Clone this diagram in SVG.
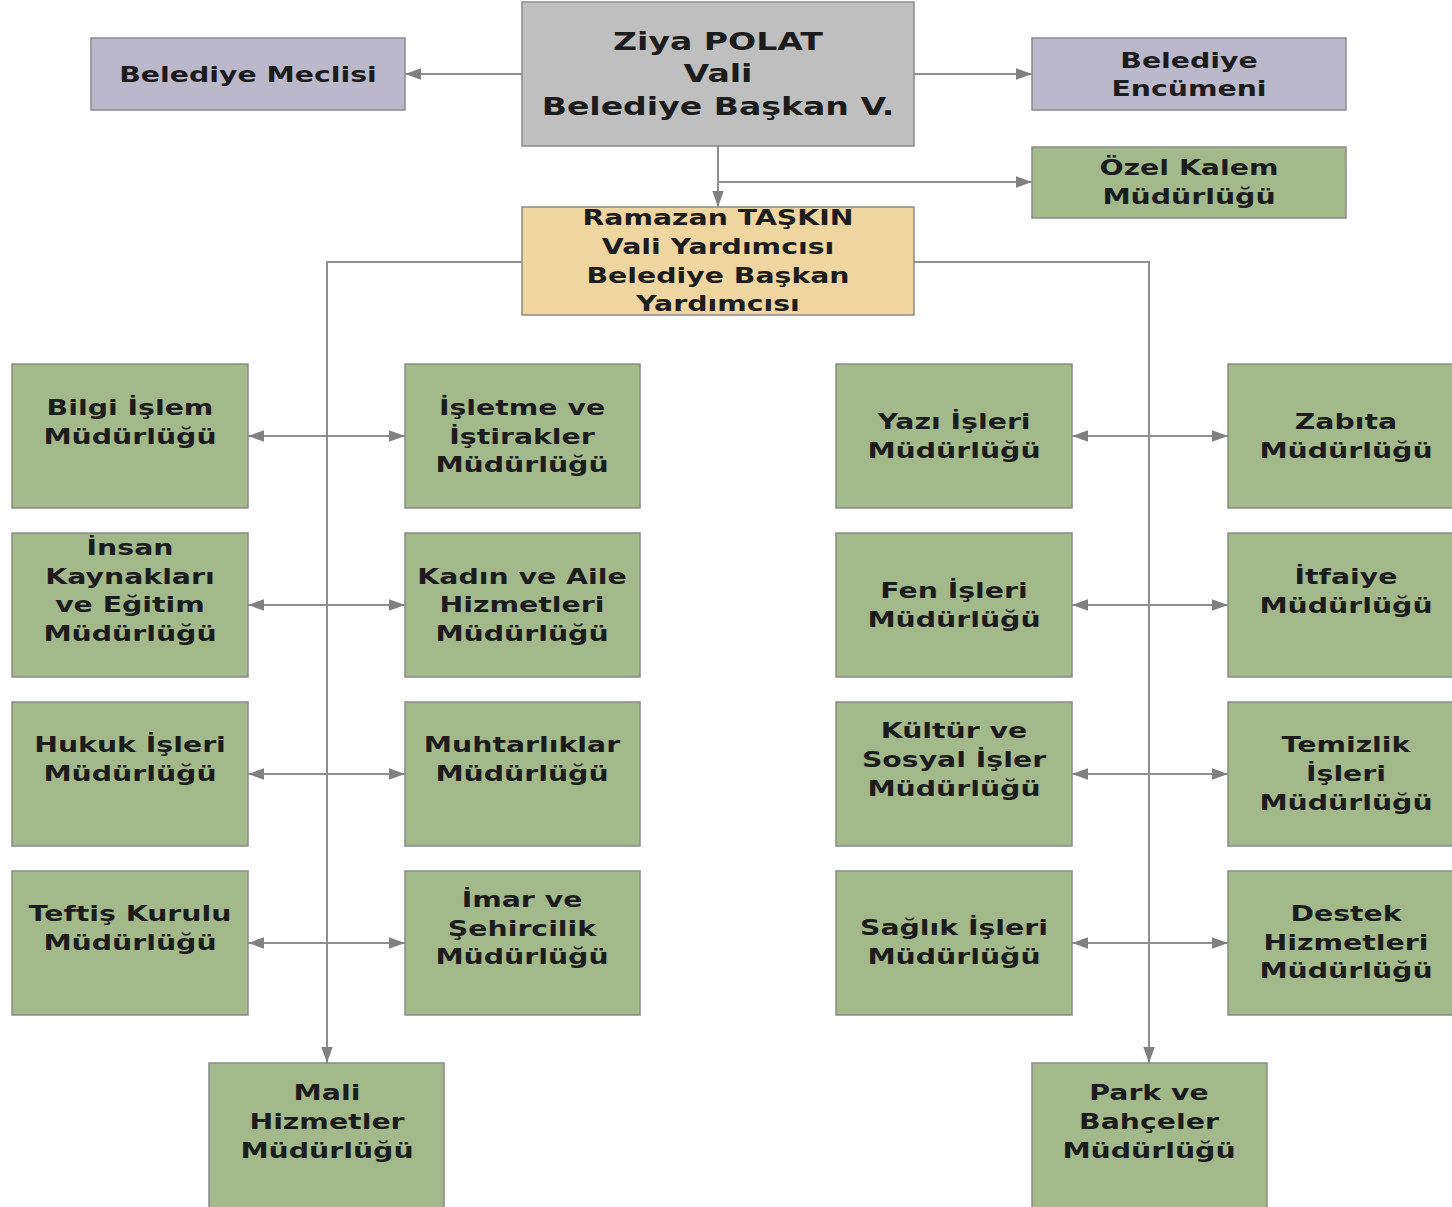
<svg xmlns="http://www.w3.org/2000/svg" width="1452" height="1207" viewBox="0 0 1452 1207">
<style>
text{font-family:"DejaVu Sans","Verdana",sans-serif;font-weight:bold;font-size:21px;fill:#1c1c1c;text-anchor:middle}
text.big{font-size:24px}
.n rect{stroke:#8a8a8a;stroke-width:1.5}
.g{fill:#a3b98c}
.p{fill:#bcb8cc}
.gr{fill:#bfbfbf}
.y{fill:#efd59f}
.c path{fill:none;stroke:#8f8f8f;stroke-width:2}
</style>
<defs>
<marker id="ah" markerUnits="userSpaceOnUse" markerWidth="16" markerHeight="12" refX="14" refY="5" orient="auto-start-reverse" viewBox="0 0 14 10">
<path d="M0,0 L14,5 L0,10 z" fill="#808080"/>
</marker>
</defs>
<rect width="1452" height="1207" fill="#ffffff"/>
<g class="c" id="connectors">
<path d="M522 74 H405" marker-end="url(#ah)"/>
<path d="M914 74 H1032" marker-end="url(#ah)"/>
<path d="M718 146 V207" marker-end="url(#ah)"/>
<path d="M718 182 H1032" marker-end="url(#ah)"/>
<path d="M522 262 H327 V1063" marker-end="url(#ah)"/>
<path d="M914 262 H1149 V1063" marker-end="url(#ah)"/>
<path d="M248 436 H405" marker-start="url(#ah)" marker-end="url(#ah)"/>
<path d="M248 605 H405" marker-start="url(#ah)" marker-end="url(#ah)"/>
<path d="M248 774 H405" marker-start="url(#ah)" marker-end="url(#ah)"/>
<path d="M248 943 H405" marker-start="url(#ah)" marker-end="url(#ah)"/>
<path d="M1072 436 H1228" marker-start="url(#ah)" marker-end="url(#ah)"/>
<path d="M1072 605 H1228" marker-start="url(#ah)" marker-end="url(#ah)"/>
<path d="M1072 774 H1228" marker-start="url(#ah)" marker-end="url(#ah)"/>
<path d="M1072 943 H1228" marker-start="url(#ah)" marker-end="url(#ah)"/>
</g>
<g class="n" id="ziya"><rect class="gr" x="522" y="2" width="392" height="144"/>
<text class="big" transform="matrix(1.38 0 0 1 718 0)"><tspan x="0" y="50">Ziya POLAT</tspan><tspan x="0" y="82">Vali</tspan><tspan x="0" y="115">Belediye Başkan V.</tspan></text></g>
<g class="n" id="meclis"><rect class="p" x="91" y="38" width="314" height="72"/>
<text transform="matrix(1.35 0 0 1 248 0)"><tspan x="0" y="82">Belediye Meclisi</tspan></text></g>
<g class="n" id="encumen"><rect class="p" x="1032" y="38" width="314" height="72"/>
<text transform="matrix(1.35 0 0 1 1189 0)"><tspan x="0" y="68">Belediye</tspan><tspan x="0" y="96">Encümeni</tspan></text></g>
<g class="n" id="ozelkalem"><rect class="g" x="1032" y="147" width="314" height="71"/>
<text transform="matrix(1.35 0 0 1 1189 0)"><tspan x="0" y="175">Özel Kalem</tspan><tspan x="0" y="204">Müdürlüğü</tspan></text></g>
<g class="n" id="ramazan"><rect class="y" x="522" y="207" width="392" height="108"/>
<text transform="matrix(1.35 0 0 1 718 0)"><tspan x="0" y="225">Ramazan TAŞKIN</tspan><tspan x="0" y="254">Vali Yardımcısı</tspan><tspan x="0" y="283">Belediye Başkan</tspan><tspan x="0" y="311">Yardımcısı</tspan></text></g>
<g class="n" id="bilgi"><rect class="g" x="12" y="364" width="236" height="144"/>
<text transform="matrix(1.35 0 0 1 130 0)"><tspan x="0" y="415">Bilgi İşlem</tspan><tspan x="0" y="444">Müdürlüğü</tspan></text></g>
<g class="n" id="isletme"><rect class="g" x="405" y="364" width="235" height="144"/>
<text transform="matrix(1.35 0 0 1 522 0)"><tspan x="0" y="415">İşletme ve</tspan><tspan x="0" y="444">İştirakler</tspan><tspan x="0" y="472">Müdürlüğü</tspan></text></g>
<g class="n" id="insan"><rect class="g" x="12" y="533" width="236" height="144"/>
<text transform="matrix(1.35 0 0 1 130 0)"><tspan x="0" y="555">İnsan</tspan><tspan x="0" y="584">Kaynakları</tspan><tspan x="0" y="612">ve Eğitim</tspan><tspan x="0" y="641">Müdürlüğü</tspan></text></g>
<g class="n" id="kadin"><rect class="g" x="405" y="533" width="235" height="144"/>
<text transform="matrix(1.35 0 0 1 522 0)"><tspan x="0" y="584">Kadın ve Aile</tspan><tspan x="0" y="612">Hizmetleri</tspan><tspan x="0" y="641">Müdürlüğü</tspan></text></g>
<g class="n" id="hukuk"><rect class="g" x="12" y="702" width="236" height="144"/>
<text transform="matrix(1.35 0 0 1 130 0)"><tspan x="0" y="752">Hukuk İşleri</tspan><tspan x="0" y="781">Müdürlüğü</tspan></text></g>
<g class="n" id="muhtar"><rect class="g" x="405" y="702" width="235" height="144"/>
<text transform="matrix(1.35 0 0 1 522 0)"><tspan x="0" y="752">Muhtarlıklar</tspan><tspan x="0" y="781">Müdürlüğü</tspan></text></g>
<g class="n" id="teftis"><rect class="g" x="12" y="871" width="236" height="144"/>
<text transform="matrix(1.35 0 0 1 130 0)"><tspan x="0" y="921">Teftiş Kurulu</tspan><tspan x="0" y="950">Müdürlüğü</tspan></text></g>
<g class="n" id="imar"><rect class="g" x="405" y="871" width="235" height="144"/>
<text transform="matrix(1.35 0 0 1 522 0)"><tspan x="0" y="907">İmar ve</tspan><tspan x="0" y="936">Şehircilik</tspan><tspan x="0" y="964">Müdürlüğü</tspan></text></g>
<g class="n" id="yazi"><rect class="g" x="836" y="364" width="236" height="144"/>
<text transform="matrix(1.35 0 0 1 954 0)"><tspan x="0" y="429">Yazı İşleri</tspan><tspan x="0" y="458">Müdürlüğü</tspan></text></g>
<g class="n" id="zabita"><rect class="g" x="1228" y="364" width="236" height="144"/>
<text transform="matrix(1.35 0 0 1 1346 0)"><tspan x="0" y="429">Zabıta</tspan><tspan x="0" y="458">Müdürlüğü</tspan></text></g>
<g class="n" id="fen"><rect class="g" x="836" y="533" width="236" height="144"/>
<text transform="matrix(1.35 0 0 1 954 0)"><tspan x="0" y="598">Fen İşleri</tspan><tspan x="0" y="627">Müdürlüğü</tspan></text></g>
<g class="n" id="itfaiye"><rect class="g" x="1228" y="533" width="236" height="144"/>
<text transform="matrix(1.35 0 0 1 1346 0)"><tspan x="0" y="584">İtfaiye</tspan><tspan x="0" y="613">Müdürlüğü</tspan></text></g>
<g class="n" id="kultur"><rect class="g" x="836" y="702" width="236" height="144"/>
<text transform="matrix(1.35 0 0 1 954 0)"><tspan x="0" y="738">Kültür ve</tspan><tspan x="0" y="767">Sosyal İşler</tspan><tspan x="0" y="796">Müdürlüğü</tspan></text></g>
<g class="n" id="temizlik"><rect class="g" x="1228" y="702" width="236" height="144"/>
<text transform="matrix(1.35 0 0 1 1346 0)"><tspan x="0" y="752">Temizlik</tspan><tspan x="0" y="781">İşleri</tspan><tspan x="0" y="810">Müdürlüğü</tspan></text></g>
<g class="n" id="saglik"><rect class="g" x="836" y="871" width="236" height="144"/>
<text transform="matrix(1.35 0 0 1 954 0)"><tspan x="0" y="935">Sağlık İşleri</tspan><tspan x="0" y="964">Müdürlüğü</tspan></text></g>
<g class="n" id="destek"><rect class="g" x="1228" y="871" width="236" height="144"/>
<text transform="matrix(1.35 0 0 1 1346 0)"><tspan x="0" y="921">Destek</tspan><tspan x="0" y="950">Hizmetleri</tspan><tspan x="0" y="978">Müdürlüğü</tspan></text></g>
<g class="n" id="mali"><rect class="g" x="209" y="1063" width="235" height="160"/>
<text transform="matrix(1.35 0 0 1 327 0)"><tspan x="0" y="1100">Mali</tspan><tspan x="0" y="1129">Hizmetler</tspan><tspan x="0" y="1158">Müdürlüğü</tspan></text></g>
<g class="n" id="park"><rect class="g" x="1032" y="1063" width="235" height="160"/>
<text transform="matrix(1.35 0 0 1 1149 0)"><tspan x="0" y="1100">Park ve</tspan><tspan x="0" y="1129">Bahçeler</tspan><tspan x="0" y="1158">Müdürlüğü</tspan></text></g>
</svg>
